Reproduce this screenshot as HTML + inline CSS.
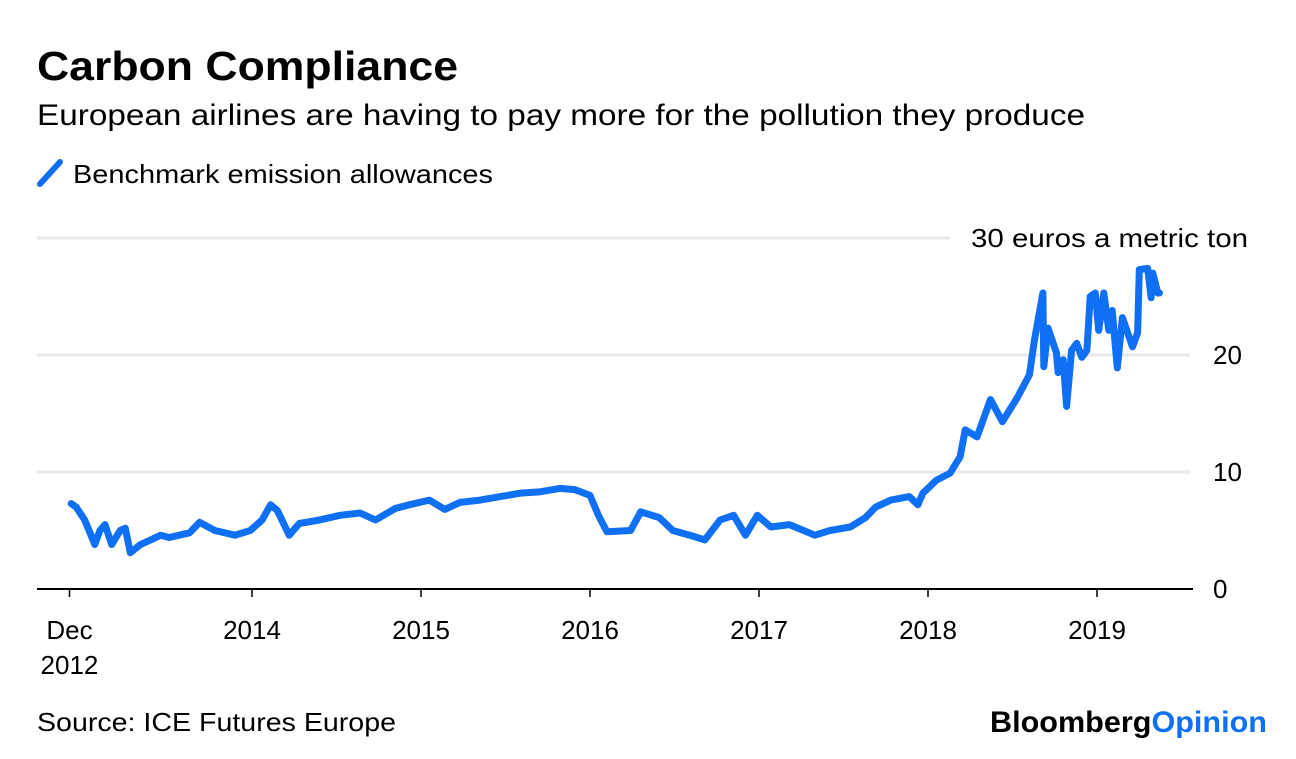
<!DOCTYPE html>
<html><head><meta charset="utf-8"><style>
body{margin:0;background:#fff;font-family:"Liberation Sans",sans-serif;}
svg text{font-family:"Liberation Sans",sans-serif;}
</style></head><body>
<svg width="1296" height="754" viewBox="0 0 1296 754">
<text x="37" y="80" font-size="41" font-weight="bold" fill="#000" textLength="421" lengthAdjust="spacingAndGlyphs">Carbon Compliance</text>
<text x="37" y="125" font-size="30" fill="#000" textLength="1048" lengthAdjust="spacingAndGlyphs">European airlines are having to pay more for the pollution they produce</text>
<g>
<line x1="40" y1="184" x2="60" y2="162" stroke="#0f6ff5" stroke-width="6" stroke-linecap="round"/>
<text x="73" y="183" font-size="26" fill="#000" textLength="420" lengthAdjust="spacingAndGlyphs">Benchmark emission allowances</text>
</g>
<g id="grid"></g>
<g id="yt"></g>
<g id="xt"></g>
<path id="line" fill="none" stroke="#0f6ff5" stroke-width="7" stroke-linejoin="round" stroke-linecap="round"/>
<text x="37" y="731" font-size="26" fill="#000" textLength="359" lengthAdjust="spacingAndGlyphs">Source: ICE Futures Europe</text>
<text x="990" y="732" font-size="30" font-weight="bold" textLength="277" lengthAdjust="spacingAndGlyphs"><tspan fill="#000">Bloomberg</tspan><tspan fill="#0f6ff5">Opinion</tspan></text>
</svg>
<script>
const dates=[2012.93,2012.96,2013.01,2013.07,2013.10,2013.13,2013.17,2013.22,2013.25,2013.28,2013.34,2013.40,2013.46,2013.51,2013.63,2013.69,2013.78,2013.90,2013.99,2014.06,2014.11,2014.15,2014.22,2014.28,2014.40,2014.52,2014.64,2014.73,2014.85,2014.93,2015.05,2015.14,2015.23,2015.35,2015.47,2015.59,2015.70,2015.82,2015.91,2016.00,2016.05,2016.10,2016.24,2016.30,2016.41,2016.49,2016.59,2016.68,2016.77,2016.85,2016.92,2016.99,2017.07,2017.18,2017.33,2017.42,2017.54,2017.63,2017.69,2017.78,2017.89,2017.94,2017.97,2018.05,2018.13,2018.19,2018.22,2018.29,2018.37,2018.44,2018.53,2018.60,2018.63,2018.68,2018.685,2018.71,2018.76,2018.77,2018.80,2018.82,2018.85,2018.88,2018.91,2018.94,2018.96,2018.99,2019.01,2019.04,2019.07,2019.09,2019.12,2019.15,2019.21,2019.24,2019.25,2019.30,2019.32,2019.33,2019.36,2019.37];
const values=[7.3,7.0,5.9,3.8,5.0,5.5,3.8,5.0,5.2,3.1,3.8,4.2,4.6,4.4,4.8,5.7,5.0,4.6,5.0,5.9,7.2,6.7,4.6,5.6,5.9,6.3,6.5,5.9,6.9,7.2,7.6,6.8,7.4,7.6,7.9,8.2,8.3,8.6,8.5,8.0,6.3,4.9,5.0,6.6,6.1,5.0,4.6,4.2,5.9,6.3,4.6,6.3,5.3,5.5,4.6,5.0,5.3,6.1,7.0,7.6,7.9,7.2,8.2,9.3,9.9,11.3,13.6,13.0,16.2,14.3,16.4,18.3,21.3,25.3,19.0,22.3,20.2,18.5,19.6,15.6,20.4,21.0,19.8,20.4,25.0,25.3,22.1,25.3,22.1,23.8,18.9,23.2,20.7,21.9,27.3,27.4,24.9,27.0,25.3,25.3];
const yTicks=[0,10,20,30];
const xTickYears=[2012.92,2014,2015,2016,2017,2018,2019];
const xTickLabels=[["Dec","2012"],["2014"],["2015"],["2016"],["2017"],["2018"],["2019"]];
const NS="http://www.w3.org/2000/svg";
const X=d=>252+(d-2014)*169;
const Y=v=>589-v*11.7;
const grid=document.getElementById('grid'),yt=document.getElementById('yt'),xt=document.getElementById('xt');
yTicks.forEach(t=>{
  const l=document.createElementNS(NS,'line');
  
  
  l.setAttribute('x1',37);l.setAttribute('x2',t===30?950:(t===0?1193:1190));
  l.setAttribute('y1',Y(t));l.setAttribute('y2',Y(t));
  l.setAttribute('stroke',t===0?'#000':'#e8e8e8');l.setAttribute('stroke-width',t===0?2:3);
  grid.appendChild(l);
  const tx=document.createElementNS(NS,'text');
  
  
  tx.setAttribute('font-size','26');
  if(t===30){tx.setAttribute('x',971);tx.setAttribute('textLength','277');tx.setAttribute('lengthAdjust','spacingAndGlyphs');tx.textContent='30 euros a metric ton';}
  else{tx.setAttribute('x',1213);tx.textContent=String(t);}
  tx.setAttribute('y',Y(t)+9);
  yt.appendChild(tx);
});
xTickYears.forEach((d,i)=>{
  const x=X(d);
  const tk=document.createElementNS(NS,'line');
  
  
  tk.setAttribute('x1',x);tk.setAttribute('x2',x);tk.setAttribute('y1',589);tk.setAttribute('y2',597);
  tk.setAttribute('stroke','#000');tk.setAttribute('stroke-width',1.5);
  xt.appendChild(tk);
  xTickLabels[i].forEach((s,j)=>{
    const tx=document.createElementNS(NS,'text');
    
    
    tx.setAttribute('font-size','26');tx.setAttribute('text-anchor','middle');
    tx.setAttribute('x',x);tx.setAttribute('y',639+j*35);
    tx.textContent=s;xt.appendChild(tx);
  });
});
document.getElementById('line').setAttribute('d',dates.map((d,i)=>(i?'L':'M')+X(d).toFixed(1)+','+Y(values[i]).toFixed(1)).join(''));
</script>
</body></html>
